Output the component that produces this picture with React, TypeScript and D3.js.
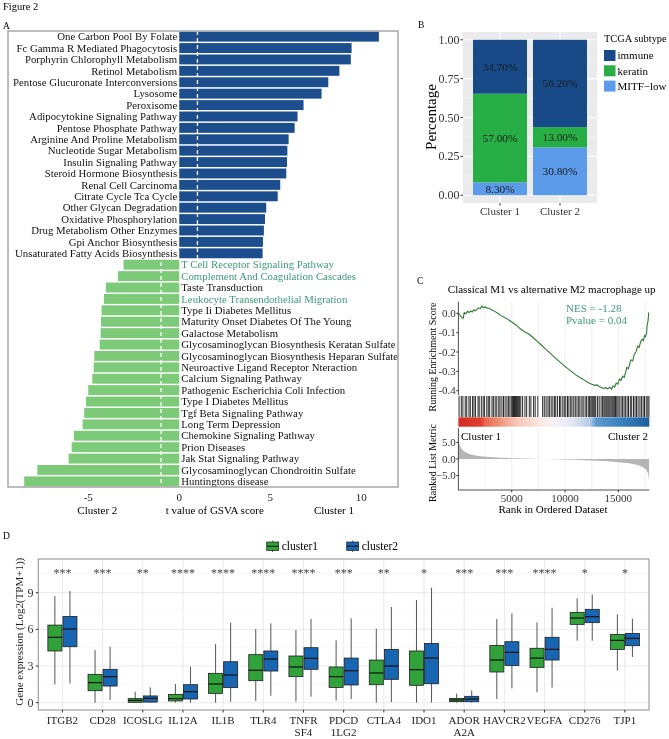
import React from "react";
import * as d3 from "d3";

const FONT = "'Liberation Serif', 'Times New Roman', serif";

// ---------- Panel A data ----------
const pathways = [
  "One Carbon Pool By Folate",
  "Fc Gamma R Mediated Phagocytosis",
  "Porphyrin Chlorophyll Metabolism",
  "Retinol Metabolism",
  "Pentose Glucuronate Interconversions",
  "Lysosome",
  "Peroxisome",
  "Adipocytokine Signaling Pathway",
  "Pentose Phosphate Pathway",
  "Arginine And Proline Metabolism",
  "Nucleotide Sugar Metabolism",
  "Insulin Signaling Pathway",
  "Steroid Hormone Biosynthesis",
  "Renal Cell Carcinoma",
  "Citrate Cycle Tca Cycle",
  "Other Glycan Degradation",
  "Oxidative Phosphorylation",
  "Drug Metabolism Other Enzymes",
  "Gpi Anchor Biosynthesis",
  "Unsaturated Fatty Acids Biosynthesis",
  "T Cell Receptor Signaling Pathway",
  "Complement And Coagulation Cascades",
  "Taste Transduction",
  "Leukocyte Transendothelial Migration",
  "Type Ii Diabetes Mellitus",
  "Maturity Onset Diabetes Of The Young",
  "Galactose Metabolism",
  "Glycosaminoglycan Biosynthesis Keratan Sulfate",
  "Glycosaminoglycan Biosynthesis Heparan Sulfate",
  "Neuroactive Ligand Receptor Nteraction",
  "Calcium Signaling Pathway",
  "Pathogenic Escherichia Coli Infection",
  "Type I Diabetes Mellitus",
  "Tgf Beta Signaling Pathway",
  "Long Term Depression",
  "Chemokine Signaling Pathway",
  "Prion Diseases",
  "Jak Stat Signaling Pathway",
  "Glycosaminoglycan Chondroitin Sulfate",
  "Huntingtons disease",
];
const tValues = [
  10.97, 9.47, 9.43, 8.8, 8.19, 7.82, 6.83, 6.5, 6.34, 6.01, 5.94, 5.92, 5.88,
  5.55, 5.41, 4.78, 4.71, 4.65, 4.6, 4.58, -3.06, -3.37, -4.03, -4.14, -4.27,
  -4.3, -4.32, -4.37, -4.67, -4.7, -4.78, -5.0, -5.13, -5.22, -5.31, -5.79,
  -5.91, -6.08, -7.8, -8.52,
];
const highlighted = [
  "T Cell Receptor Signaling Pathway",
  "Complement And Coagulation Cascades",
  "Leukocyte Transendothelial Migration",
];
const aTicks = [-5, 0, 5, 10];
const aThresholds = [-1, 1];

// ---------- Panel B data ----------
const clustersB = ["Cluster 1", "Cluster 2"];
const subtypes = ["immune", "keratin", "MITF\u2212low"];
const immuneShare = [0.347, 0.562];
const keratinShare = [0.57, 0.13];
const mitfShare = [0.083, 0.308];
const bTicks = [0, 0.25, 0.5, 0.75, 1];

// ---------- Panel C data ----------
const esCurve: [number, number][] = [
  [0, 0], [150, -0.01], [300, -0.02], [450, -0.026], [550, 0.004], [700, -0.002],
  [850, 0.01], [1000, 0.004], [1150, 0.012], [1300, 0.007], [1450, 0.018],
  [1600, 0.013], [1750, 0.022], [1900, 0.028], [2050, 0.023], [2200, 0.037],
  [2350, 0.03], [2500, 0.033], [2700, 0.027], [2900, 0.026], [3100, 0.018],
  [3400, 0.01], [3700, 0.0], [4000, -0.012], [4300, -0.02], [4600, -0.03],
  [5000, -0.045], [5400, -0.06], [5800, -0.08], [6200, -0.095], [6600, -0.107],
  [7000, -0.125], [7400, -0.145], [7800, -0.165], [8200, -0.186], [8600, -0.206],
  [9000, -0.226], [9400, -0.246], [9800, -0.265], [10200, -0.283], [10600, -0.3],
  [11000, -0.318], [11400, -0.332], [11800, -0.345], [12200, -0.359],
  [12500, -0.366], [12800, -0.372], [13000, -0.37], [13200, -0.378],
  [13400, -0.383], [13600, -0.388], [13800, -0.384], [14000, -0.39],
  [14200, -0.382], [14350, -0.392], [14500, -0.375], [14650, -0.381],
  [14800, -0.36], [14950, -0.366], [15100, -0.34], [15250, -0.346],
  [15400, -0.325], [15550, -0.331], [15700, -0.3], [15800, -0.28],
  [15950, -0.286], [16100, -0.255], [16200, -0.24], [16350, -0.246],
  [16500, -0.21], [16650, -0.2], [16800, -0.17], [16950, -0.176],
  [17100, -0.145], [17250, -0.135], [17350, -0.141], [17450, -0.115],
  [17550, -0.121], [17650, -0.1], [17700, -0.06], [17780, -0.04], [17850, 0.005],
];
const hitRanks = [
  60, 270, 420, 640, 780, 990, 1120, 1330, 1460, 1600, 1840, 1950, 2150, 2320,
  2440, 2660, 2800, 2930, 3150, 3280, 3450, 3600, 3790, 3900, 4080, 4230, 4380,
  4550, 4690, 4830, 4960, 5080, 5170, 5260, 5350, 5440, 5530, 5620, 5720, 5850,
  6020, 6240, 6400, 6650, 6800, 7050, 7200, 7450, 7900, 8050, 8220, 8400, 8530,
  8700, 8860, 9020, 9130, 9300, 9480, 9600, 9790, 9930, 10070, 10230, 10360,
  10530, 10650, 10820, 10960, 11120, 11280, 11400, 11580, 11700, 11880, 12020,
  12180, 12300, 12420, 12520, 12610, 12700, 12790, 12880, 13050, 13200, 13380,
  13520, 13640, 13740, 13840, 13930, 14030, 14120, 14220, 14320, 14420, 14520,
  14620, 14730, 14850, 14960, 15080, 15250, 15380, 15530, 15660, 15820, 15950,
  16120, 16250, 16420, 16560, 16700, 16850, 17020, 17160, 17320, 17450, 17610,
  17760, 17870,
];
const rankedMetric: [number, number][] = [
  [0, 6.8], [100, 4.5], [300, 3.0], [600, 2.2], [1000, 1.5], [1500, 1.1],
  [2000, 0.85], [3000, 0.6], [4000, 0.4], [5000, 0.25], [6000, 0.12],
  [7000, 0.04], [8000, 0], [9000, -0.06], [10000, -0.15], [11000, -0.25],
  [12000, -0.35], [13000, -0.5], [14000, -0.7], [15000, -0.95], [16000, -1.3],
  [16800, -1.8], [17300, -2.4], [17600, -3.2], [17800, -4.5], [17880, -6.4],
];
const rankTicks = [5000, 10000, 15000];
const esTicks = [0, -0.1, -0.2, -0.3, -0.4];
const metricTicks = [5, 0, -5];
const colorStops: [number, string][] = [
  [0, "#d22b26"], [0.12, "#df3f2f"], [0.14, "#e8674f"], [0.2, "#ee8a70"],
  [0.3, "#f7c4b2"], [0.43, "#fbe9e3"], [0.52, "#f3f1f7"], [0.6, "#e2e5f2"],
  [0.69, "#b4cbe6"], [0.72, "#5d9ad0"], [0.85, "#3a82c2"], [1, "#1c5d9c"],
];

// ---------- Panel D data ----------
const genes = [
  "ITGB2", "CD28", "ICOSLG", "IL12A", "IL1B", "TLR4", "TNFRSF4", "PDCD1LG2",
  "CTLA4", "IDO1", "ADORA2A", "HAVCR2", "VEGFA", "CD276", "TJP1",
];
const geneLabels = [
  ["ITGB2"], ["CD28"], ["ICOSLG"], ["IL12A"], ["IL1B"], ["TLR4"],
  ["TNFR", "SF4"], ["PDCD", "1LG2"], ["CTLA4"], ["IDO1"], ["ADOR", "A2A"],
  ["HAVCR2"], ["VEGFA"], ["CD276"], ["TJP1"],
];
const stars = [
  "***", "***", "**", "****", "****", "****", "****", "***", "**", "*", "***",
  "***", "****", "*", "*",
];
// [lower whisker, Q1, median, Q3, upper whisker]
const cluster1Stats = [
  [1.5, 4.23, 5.35, 6.35, 8.73],
  [0, 0.98, 1.64, 2.32, 4.31],
  [0, 0.03, 0.19, 0.33, 0.9],
  [0, 0.14, 0.33, 0.68, 1.53],
  [0, 0.76, 1.53, 2.4, 4.8],
  [0.14, 1.8, 2.65, 3.93, 6.03],
  [0.08, 2.13, 2.92, 3.82, 5.95],
  [0.16, 1.25, 2.13, 2.92, 5.1],
  [0, 1.47, 2.43, 3.49, 6.05],
  [0, 1.42, 2.7, 4.23, 8.4],
  [0, 0.08, 0.22, 0.35, 0.74],
  [0.3, 2.51, 3.49, 4.69, 6.85],
  [0.85, 2.89, 3.65, 4.45, 6.57],
  [5.07, 6.41, 6.93, 7.39, 8.54],
  [2.62, 4.36, 5.1, 5.59, 7.23],
];
const cluster2Stats = [
  [1.58, 4.58, 6.03, 7.06, 9.14],
  [0.22, 1.36, 2.13, 2.73, 4.58],
  [0, 0.05, 0.35, 0.55, 1.25],
  [0, 0.3, 0.9, 1.47, 2.95],
  [0.08, 1.23, 2.26, 3.35, 6.55],
  [0.57, 2.59, 3.57, 4.23, 6.49],
  [0.49, 2.73, 3.63, 4.5, 6.85],
  [0.3, 1.45, 2.62, 3.65, 6.9],
  [0.05, 1.91, 3.0, 4.36, 7.83],
  [0, 1.55, 3.65, 4.85, 9.41],
  [0, 0.08, 0.3, 0.52, 1.0],
  [1.17, 3.05, 4.12, 4.99, 7.31],
  [1.23, 3.49, 4.36, 5.35, 7.77],
  [5.07, 6.55, 7.04, 7.64, 8.86],
  [3.74, 4.66, 5.26, 5.67, 6.87],
];
const dTicks = [0, 3, 6, 9];
const dMinor = [1.5, 4.5, 7.5, 10.5];
const dGroups = ["cluster1", "cluster2"];

const BLUE_A = "#1c4e8d";
const GREEN_A = "#7dcb79";
const TEAL = "#3c9a78";
const B_COLORS = ["#174a86", "#27ae45", "#5b9bea"];
const D_COLORS = ["#31a23a", "#1866b2"];

function PanelA() {
  const x = d3.scaleLinear().domain([-9.41, 12.02]).range([8, 398]);
  const y = d3.scaleBand().domain(pathways).range([31, 487]).paddingInner(0.13).paddingOuter(0.06);
  const x0 = x(0);
  return (
    <g>
      {pathways.map((p, i) => {
        const v = tValues[i];
        return (
          <rect key={p} x={Math.min(x0, x(v))} y={y(p)!} width={Math.abs(x(v) - x0)}
            height={y.bandwidth()} fill={v > 0 ? BLUE_A : GREEN_A} />
        );
      })}
      {aThresholds.map((t) => (
        <line key={t} x1={x(t)} x2={x(t)} y1={31} y2={487} stroke="#fff" strokeWidth={1.3} strokeDasharray="4,3" />
      ))}
      {pathways.map((p, i) => {
        const v = tValues[i];
        const pos = v > 0;
        return (
          <text key={p} x={pos ? x0 - 2 : x0 + 2} y={y(p)! + y.bandwidth() / 2} dy="0.34em"
            textAnchor={pos ? "end" : "start"} fontSize={10.8}
            fill={highlighted.includes(p) ? TEAL : "#111"}>{p}</text>
        );
      })}
      <rect x={8} y={31} width={390} height={456} fill="none" stroke="#9a9a9a" strokeWidth={1.3} />
      {aTicks.map((t) => (
        <text key={t} x={x(t)} y={501} textAnchor="middle" fontSize={11} fill="#222">{t}</text>
      ))}
      <text x={x(-4.5)} y={514} textAnchor="middle" fontSize={11}>Cluster 2</text>
      <text x={x(1.95)} y={514} textAnchor="middle" fontSize={11}>t value of GSVA score</text>
      <text x={x(8.5)} y={514} textAnchor="middle" fontSize={11}>Cluster 1</text>
    </g>
  );
}

function PanelB() {
  const x = d3.scaleBand().domain(clustersB).range([463, 597]).paddingInner(0.1).paddingOuter(0.167);
  const y = d3.scaleLinear().domain([-0.05, 1.05]).range([203, 32]);
  const rows = clustersB.map((c, i) => ({ cluster: c, mitf: mitfShare[i], keratin: keratinShare[i], immune: immuneShare[i] }));
  const keys = ["mitf", "keratin", "immune"];
  const stack = d3.stack<any>().keys(keys)(rows);
  const colorOf: Record<string, string> = { immune: B_COLORS[0], keratin: B_COLORS[1], mitf: B_COLORS[2] };
  const fmt = d3.format(".2%");
  const minor = [0.125, 0.375, 0.625, 0.875];
  return (
    <g>
      <rect x={463} y={32} width={134} height={171} fill="#ebebeb" />
      {minor.map((t) => (
        <line key={t} x1={463} x2={597} y1={y(t)} y2={y(t)} stroke="#f7f7f7" strokeWidth={0.6} />
      ))}
      {bTicks.map((t) => (
        <line key={t} x1={463} x2={597} y1={y(t)} y2={y(t)} stroke="#fff" strokeWidth={1.1} />
      ))}
      {clustersB.map((c) => (
        <line key={c} x1={x(c)! + x.bandwidth() / 2} x2={x(c)! + x.bandwidth() / 2} y1={32} y2={203} stroke="#fff" strokeWidth={1.1} />
      ))}
      {stack.map((layer) =>
        layer.map((seg, j) => (
          <g key={layer.key + j}>
            <rect x={x(clustersB[j])!} y={y(seg[1])} width={x.bandwidth()} height={y(seg[0]) - y(seg[1])} fill={colorOf[layer.key]} />
            <text x={x(clustersB[j])! + x.bandwidth() / 2} y={y((seg[0] + seg[1]) / 2)} dy="0.34em" textAnchor="middle" fontSize={11.3} fill="#1a1a1a">
              {fmt(seg[1] - seg[0])}
            </text>
          </g>
        ))
      )}
      {bTicks.map((t) => (
        <g key={t}>
          <line x1={460.5} x2={463} y1={y(t)} y2={y(t)} stroke="#333" />
          <text x={459.5} y={y(t)} dy="0.34em" textAnchor="end" fontSize={12} fill="#333">{d3.format(".2f")(t)}</text>
        </g>
      ))}
      {clustersB.map((c) => (
        <g key={c}>
          <line x1={x(c)! + x.bandwidth() / 2} x2={x(c)! + x.bandwidth() / 2} y1={203} y2={205.5} stroke="#333" />
          <text x={x(c)! + x.bandwidth() / 2} y={215} textAnchor="middle" fontSize={11} fill="#333">{c}</text>
        </g>
      ))}
      <text transform="translate(436,117) rotate(-90)" textAnchor="middle" fontSize={15}>Percentage</text>
      <text x={604} y={41.5} fontSize={10.4}>TCGA subtype</text>
      {subtypes.map((s, i) => (
        <g key={s}>
          <rect x={604} y={50 + i * 15.3} width={11.5} height={11} fill={B_COLORS[i]} />
          <text x={617.5} y={55.5 + i * 15.3} dy="0.34em" fontSize={11}>{s}</text>
        </g>
      ))}
    </g>
  );
}

function PanelC() {
  const x = d3.scaleLinear().domain([0, 17900]).range([458.4, 649.3]);
  const yEs = d3.scaleLinear().domain([-0.422, 0.06]).range([395, 301.7]);
  const yM = d3.scaleLinear().domain([-9.4, 9.4]).range([490, 428]);
  const grid = d3.range(2500, 17900, 2500);
  const line = d3.line<[number, number]>().x((d) => x(d[0])).y((d) => yEs(d[1]));
  const area = d3.area<[number, number]>().x((d) => x(d[0])).y0(yM(0)).y1((d) => yM(d[1]));
  return (
    <g>
      <defs>
        <linearGradient id="rankGrad" x1="0" x2="1" y1="0" y2="0">
          {colorStops.map(([o, c], i) => (
            <stop key={i} offset={o} stopColor={c} />
          ))}
        </linearGradient>
      </defs>
      <text x={551.7} y={292.5} textAnchor="middle" fontSize={11}>Classical M1 vs alternative M2 macrophage up</text>
      {grid.map((g) => (
        <g key={g}>
          <line x1={x(g)} x2={x(g)} y1={301.7} y2={395} stroke="#ececec" strokeWidth={0.8} />
          <line x1={x(g)} x2={x(g)} y1={428} y2={490} stroke="#ececec" strokeWidth={0.8} />
        </g>
      ))}
      <path d={line(esCurve)!} fill="none" stroke="#2f7a2f" strokeWidth={1.1} />
      <line x1={458.4} x2={458.4} y1={301.7} y2={395} stroke="#222" strokeWidth={0.8} />
      {esTicks.map((t) => (
        <g key={t}>
          <line x1={456.3} x2={458.4} y1={yEs(t)} y2={yEs(t)} stroke="#333" />
          <text x={455.8} y={yEs(t)} dy="0.34em" textAnchor="end" fontSize={11} fill="#333">{d3.format(".1f")(t).replace("\u2212", "-")}</text>
        </g>
      ))}
      <text x={566} y={312.3} fontSize={11} fill={TEAL}>NES = -1.28</text>
      <text x={566} y={324} fontSize={11} fill={TEAL}>Pvalue = 0.04</text>
      {hitRanks.map((r) => (
        <line key={r} x1={x(r)} x2={x(r)} y1={396} y2={417} stroke="#111" strokeWidth={0.9} />
      ))}
      <rect x={458.4} y={417.3} width={190.9} height={9.4} fill="url(#rankGrad)" />
      <path d={area(rankedMetric)!} fill="#b5b5b5" />
      <line x1={458.4} x2={458.4} y1={428} y2={490} stroke="#222" strokeWidth={0.8} />
      <line x1={458.4} x2={649.3} y1={490} y2={490} stroke="#222" strokeWidth={0.8} />
      {metricTicks.map((t) => (
        <g key={t}>
          <line x1={456.3} x2={458.4} y1={yM(t)} y2={yM(t)} stroke="#333" />
          <text x={455.8} y={yM(t)} dy="0.34em" textAnchor="end" fontSize={11} fill="#333">{d3.format(".1f")(t)}</text>
        </g>
      ))}
      <text x={461} y={440} fontSize={11}>Cluster 1</text>
      <text x={648} y={440} textAnchor="end" fontSize={11}>Cluster 2</text>
      {rankTicks.map((t) => (
        <g key={t}>
          <line x1={x(t)} x2={x(t)} y1={490} y2={492.3} stroke="#333" />
          <text x={x(t)} y={501.7} textAnchor="middle" fontSize={11} fill="#333">{t}</text>
        </g>
      ))}
      <text x={553} y={513} textAnchor="middle" fontSize={11}>Rank in Ordered Dataset</text>
      <text transform="translate(436,357) rotate(-90)" textAnchor="middle" fontSize={10}>Running Enrichment Score</text>
      <text transform="translate(436,463) rotate(-90)" textAnchor="middle" fontSize={10}>Ranked List Metric</text>
    </g>
  );
}

function Box({ cx, w, s, y, color }: { cx: number; w: number; s: number[]; y: d3.ScaleLinear<number, number>; color: string }) {
  const [lo, q1, med, q3, hi] = s;
  return (
    <g>
      <line x1={cx} x2={cx} y1={y(hi)} y2={y(q3)} stroke="#555" strokeWidth={1} />
      <line x1={cx} x2={cx} y1={y(q1)} y2={y(lo)} stroke="#555" strokeWidth={1} />
      <rect x={cx - w / 2} y={y(q3)} width={w} height={Math.max(1, y(q1) - y(q3))} fill={color} stroke="#1e1e1e" strokeWidth={0.8} />
      <line x1={cx - w / 2} x2={cx + w / 2} y1={y(med)} y2={y(med)} stroke="#111" strokeWidth={1.2} />
    </g>
  );
}

function PanelD() {
  const x = d3.scalePoint().domain(genes).range([38.3, 649]).padding(0.6);
  const y = d3.scaleLinear().domain([-0.6, 11.76]).range([710, 559]);
  const step = x.step();
  const dodge = (step * 0.75) / 2;
  const bw = dodge * 0.93;
  return (
    <g>
      <rect x={38.3} y={559} width={610.7} height={151} fill="#fff" />
      {dMinor.map((t) => (
        <line key={t} x1={38.3} x2={649} y1={y(t)} y2={y(t)} stroke="#f2f2f2" strokeWidth={0.6} />
      ))}
      {dTicks.map((t) => (
        <line key={t} x1={38.3} x2={649} y1={y(t)} y2={y(t)} stroke="#e6e6e6" strokeWidth={0.9} />
      ))}
      {genes.map((g) => (
        <line key={g} x1={x(g)} x2={x(g)} y1={559} y2={710} stroke="#e6e6e6" strokeWidth={0.9} />
      ))}
      {genes.map((g, i) => (
        <g key={g}>
          <Box cx={x(g)! - dodge / 2} w={bw} s={cluster1Stats[i]} y={y} color={D_COLORS[0]} />
          <Box cx={x(g)! + dodge / 2} w={bw} s={cluster2Stats[i]} y={y} color={D_COLORS[1]} />
        </g>
      ))}
      {genes.map((g, i) => (
        <text key={g} x={x(g)} y={y(10.3)} textAnchor="middle" fontSize={12} fill="#444">{stars[i]}</text>
      ))}
      <rect x={38.3} y={559} width={610.7} height={151} fill="none" stroke="#8c8c8c" strokeWidth={1} />
      {dTicks.map((t) => (
        <g key={t}>
          <line x1={35.8} x2={38.3} y1={y(t)} y2={y(t)} stroke="#333" />
          <text x={33.5} y={y(t)} dy="0.34em" textAnchor="end" fontSize={12} fill="#333">{t}</text>
        </g>
      ))}
      {genes.map((g, i) => (
        <g key={g}>
          <line x1={x(g)} x2={x(g)} y1={710} y2={712.5} stroke="#333" />
          {geneLabels[i].map((l, k) => (
            <text key={k} x={x(g)} y={724 + k * 12} textAnchor="middle" fontSize={11} fill="#222">{l}</text>
          ))}
        </g>
      ))}
      <text transform="translate(22.5,631.7) rotate(-90)" textAnchor="middle" fontSize={11} fill="#222">Gene expression (Log2(TPM+1))</text>
      {dGroups.map((gName, i) => {
        const kx = i === 0 ? 266.7 : 346.7;
        return (
          <g key={gName}>
            <line x1={kx + 6} x2={kx + 6} y1={540.5} y2={552} stroke="#555" />
            <rect x={kx} y={542} width={12} height={8.5} fill={D_COLORS[i]} stroke="#1e1e1e" strokeWidth={0.7} />
            <line x1={kx} x2={kx + 12} y1={546.2} y2={546.2} stroke="#111" strokeWidth={1} />
            <text x={kx + 15} y={549.5} fontSize={11.5}>{gName}</text>
          </g>
        );
      })}
    </g>
  );
}

export default function App() {
  return (
    <div style={{ position: "absolute", left: 0, top: 0, width: 669, height: 739, willChange: "transform" }}>
      <svg width={669} height={739} viewBox="0 0 669 739" style={{ display: "block" }} fontFamily={FONT}>
        <rect width={669} height={739} fill="#fff" />
        <text x={3} y={9.5} fontSize={10.5}>Figure 2</text>
        <text x={3} y={29.3} fontSize={9.5}>A</text>
        <text x={418} y={28.3} fontSize={9.5}>B</text>
        <text x={417} y={284} fontSize={9.5}>C</text>
        <text x={3} y={539} fontSize={9.5}>D</text>
        <PanelA />
        <PanelB />
        <PanelC />
        <PanelD />
      </svg>
    </div>
  );
}
